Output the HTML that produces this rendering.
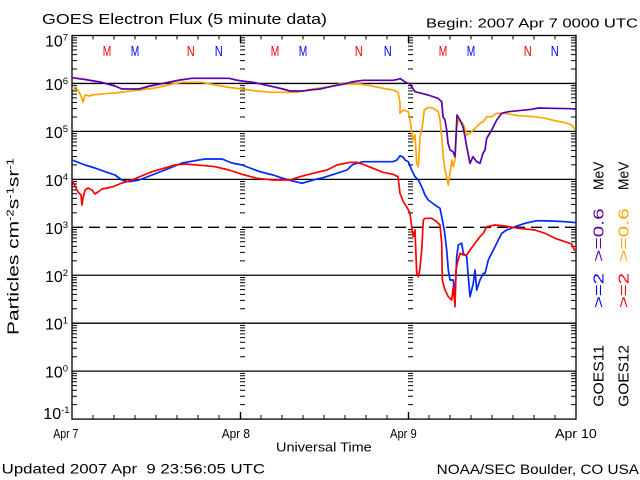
<!DOCTYPE html>
<html><head><meta charset="utf-8"><style>
html,body{margin:0;padding:0;background:#fff;}
svg{display:block;}
text{font-family:"Liberation Sans",sans-serif;fill:#000;}
</style></head><body>
<svg width="640" height="480" viewBox="0 0 640 480" xmlns="http://www.w3.org/2000/svg">
<rect x="0" y="0" width="640" height="480" fill="#fff"/>
<defs>
<path id="tk" d="M0 2.2h5M0 4.65h5M0 7.43h5M0 10.64h5M0 14.43h5M0 19.08h5M0 25.07h5M0 33.52h5" stroke="#000" stroke-width="1" fill="none"/>
<g id="col">
<use href="#tk" y="35.5"/><use href="#tk" y="83.45"/><use href="#tk" y="131.4"/><use href="#tk" y="179.35"/>
<use href="#tk" y="227.3"/><use href="#tk" y="275.25"/><use href="#tk" y="323.2"/><use href="#tk" y="371.15"/>
</g>
</defs>

<!-- titles -->
<text x="42" y="24" font-size="15" textLength="285" lengthAdjust="spacingAndGlyphs">GOES Electron Flux (5 minute data)</text>
<text x="426" y="27.3" font-size="13" textLength="212" lengthAdjust="spacingAndGlyphs">Begin: 2007 Apr 7 0000 UTC</text>

<!-- grid lines -->
<g stroke="#000" stroke-width="1.3" fill="none">
<path d="M72 83.45H576M72 131.4H576M72 179.35H576M72 275.25H576M72 323.2H576M72 371.15H576"/>
<path d="M72 227.3H576" stroke-dasharray="11 6"/>
<rect x="72" y="35.5" width="504" height="383.6"/>
</g>

<!-- minor log ticks -->
<use href="#col" x="72"/>
<use href="#col" x="571"/>
<use href="#col" x="240"/>
<use href="#col" x="408"/>

<!-- time ticks -->
<g stroke="#000" stroke-width="1" fill="none">
<path d="M93 419v-4M114 419v-4M135 419v-4M156 419v-4M177 419v-4M198 419v-4M219 419v-4M261 419v-4M282 419v-4M303 419v-4M324 419v-4M345 419v-4M366 419v-4M387 419v-4M429 419v-4M450 419v-4M471 419v-4M492 419v-4M513 419v-4M534 419v-4M555 419v-4"/>
<path d="M93 35.5v4M114 35.5v4M135 35.5v4M156 35.5v4M177 35.5v4M198 35.5v4M219 35.5v4M261 35.5v4M282 35.5v4M303 35.5v4M324 35.5v4M345 35.5v4M366 35.5v4M387 35.5v4M429 35.5v4M450 35.5v4M471 35.5v4M492 35.5v4M513 35.5v4M534 35.5v4M555 35.5v4"/>
<path d="M240.5 419v-7M408.5 419v-7M240.5 35.5v7M408.5 35.5v7" stroke-width="1.4"/>
</g>

<!-- M/N markers -->
<g font-size="15">
<text x="102.8" y="56" textLength="8.5" lengthAdjust="spacingAndGlyphs" style="fill:#ff0000">M</text>
<text x="130.8" y="56" textLength="8.5" lengthAdjust="spacingAndGlyphs" style="fill:#0000ff">M</text>
<text x="186.8" y="56" textLength="8" lengthAdjust="spacingAndGlyphs" style="fill:#ff0000">N</text>
<text x="214.8" y="56" textLength="8" lengthAdjust="spacingAndGlyphs" style="fill:#0000ff">N</text>
<text x="270.8" y="56" textLength="8.5" lengthAdjust="spacingAndGlyphs" style="fill:#ff0000">M</text>
<text x="298.8" y="56" textLength="8.5" lengthAdjust="spacingAndGlyphs" style="fill:#0000ff">M</text>
<text x="354.8" y="56" textLength="8" lengthAdjust="spacingAndGlyphs" style="fill:#ff0000">N</text>
<text x="383.8" y="56" textLength="8" lengthAdjust="spacingAndGlyphs" style="fill:#0000ff">N</text>
<text x="438.8" y="56" textLength="8.5" lengthAdjust="spacingAndGlyphs" style="fill:#ff0000">M</text>
<text x="466.8" y="56" textLength="8.5" lengthAdjust="spacingAndGlyphs" style="fill:#0000ff">M</text>
<text x="523.8" y="56" textLength="8" lengthAdjust="spacingAndGlyphs" style="fill:#ff0000">N</text>
<text x="550.8" y="56" textLength="8" lengthAdjust="spacingAndGlyphs" style="fill:#0000ff">N</text>
</g>

<!-- y tick labels -->
<g font-size="16">
<text x="45" y="46.7">10<tspan font-size="9.5" dy="-6">7</tspan></text>
<text x="45" y="90">10<tspan font-size="9.5" dy="-6">6</tspan></text>
<text x="45" y="137.9">10<tspan font-size="9.5" dy="-6">5</tspan></text>
<text x="45" y="185.9">10<tspan font-size="9.5" dy="-6">4</tspan></text>
<text x="45" y="233.8">10<tspan font-size="9.5" dy="-6">3</tspan></text>
<text x="45" y="281.8">10<tspan font-size="9.5" dy="-6">2</tspan></text>
<text x="45" y="329.7">10<tspan font-size="9.5" dy="-6">1</tspan></text>
<text x="45" y="377.6">10<tspan font-size="9.5" dy="-6">0</tspan></text>
<text x="43.3" y="419">10<tspan font-size="9.5" dy="-6">-1</tspan></text>
</g>

<!-- y axis title -->
<text transform="translate(18.3,335) rotate(-90)" font-size="16" textLength="177" lengthAdjust="spacingAndGlyphs">Particles cm<tspan font-size="10" dy="-5">-2</tspan><tspan dy="5">s</tspan><tspan font-size="10" dy="-5">-1</tspan><tspan dy="5">sr</tspan><tspan font-size="10" dy="-5">-1</tspan></text>

<!-- x labels -->
<g font-size="13">
<text x="53.3" y="438" textLength="25" lengthAdjust="spacingAndGlyphs">Apr 7</text>
<text x="221.7" y="438" textLength="28.3" lengthAdjust="spacingAndGlyphs">Apr 8</text>
<text x="390" y="438" textLength="26.7" lengthAdjust="spacingAndGlyphs">Apr 9</text>
<text x="555" y="438" textLength="41.7" lengthAdjust="spacingAndGlyphs">Apr 10</text>
<text x="276" y="451.7" textLength="95.7" lengthAdjust="spacingAndGlyphs">Universal Time</text>
</g>
<text x="1.7" y="473.3" font-size="14" textLength="263.3" lengthAdjust="spacingAndGlyphs" style="white-space:pre">Updated 2007 Apr  9 23:56:05 UTC</text>
<text x="436.7" y="474" font-size="14" textLength="202.3" lengthAdjust="spacingAndGlyphs">NOAA/SEC Boulder, CO USA</text>

<!-- right side legend -->
<g font-size="15">
<text transform="translate(603.3,406.7) rotate(-90)" textLength="61.7" lengthAdjust="spacingAndGlyphs">GOES11</text>
<text transform="translate(603.3,308) rotate(-90)" textLength="35" lengthAdjust="spacingAndGlyphs" style="fill:#0000ff">&gt;=2</text>
<text transform="translate(603.3,261.7) rotate(-90)" textLength="53.4" lengthAdjust="spacingAndGlyphs" style="fill:#5a00aa">&gt;=0.6</text>
<text transform="translate(603.3,190) rotate(-90)" textLength="28.3" lengthAdjust="spacingAndGlyphs">MeV</text>
<text transform="translate(628.3,406.7) rotate(-90)" textLength="61.7" lengthAdjust="spacingAndGlyphs">GOES12</text>
<text transform="translate(628.3,308) rotate(-90)" textLength="35" lengthAdjust="spacingAndGlyphs" style="fill:#ff0000">&gt;=2</text>
<text transform="translate(628.3,261.7) rotate(-90)" textLength="53.4" lengthAdjust="spacingAndGlyphs" style="fill:#ffa500">&gt;=0.6</text>
<text transform="translate(628.3,190) rotate(-90)" textLength="28.3" lengthAdjust="spacingAndGlyphs">MeV</text>
</g>

<!-- data series -->
<g fill="none" stroke-width="1.7" stroke-linejoin="round">
<polyline stroke="#ffa500" points="72,88 78,90 81,96 83,102 85,95 90,96 92,95 105,93.7 120,92.5 139,90 155,88 172,84 182,82.3 202,82.3 210,84 219,85.7 230,87.5 242,89 257,91 270,92.3 297,92.3 303,91 313,89 330,86.7 340,84 360,84 370,85.7 383,88.3 393,90 397,91.7 398.3,93 400,103.3 400,113.3 403.3,110 408.3,111.7 410,120 411.7,131.7 413.3,140 415,135 416.7,163.3 418.3,166.7 420,136.7 422.3,126.7 424.3,110 428.3,107.3 433.3,108.3 438.3,111.7 440,120 441.7,136.7 443.3,156.7 445,170 446.7,176.7 448.3,185 450,173.3 451.7,160 453.3,166.7 455,160 456.7,128.3 458.3,120 461.7,121.7 465,128.3 466.7,135 470,133.3 473.3,130 476.7,126.7 480,123.3 483.3,121.7 486.7,116.7 491.7,116.7 496.7,113.3 505,113.3 518.3,115.7 535,116.7 545,118.3 555,120.7 565,122.7 571.7,125 575,129.3"/>
<polyline stroke="#5a00aa" points="72,77.7 85,79.5 100,82 115,86 122,89 139,89 150,86 165,83 180,80 192,78.3 229,78.3 236,80 242,81 253,82.3 273,86.7 283,89 290,91 303,91 310,90 320,89 330,86.7 343,84.3 353,81.7 363,80.3 393,80.3 398,79.3 400,78.5 403,80.5 405,82 410,84 415,91.7 421.7,93.3 428,95 438,98.3 441.7,101.7 443,116.7 445,120 446.7,130 448,143 450,150 453,151.7 455,156.7 456,136.7 457,115 460,120 463,126.7 465,136.7 466.7,146.7 470,163.3 473,156.7 476.7,161.7 480,163.3 483,153.3 485,150 486.7,138.3 491.7,130 496.7,120 501.7,113.3 508.3,111.7 518.3,110.7 531.7,109.3 538.3,108 551.7,108.3 571.7,108.7 576,109.3"/>
<polyline stroke="#0028ff" points="72,160 85,165 95,168 105,171.7 115,175 122,180 129,181.7 139,180 152,175 165,170 182,163 195,160.7 205,159 222,159 232,163 242,165 250,168 260,171.7 273,175 283,178.3 293,181 302,183.3 313,180 323,177.7 337,173.3 347,170 353,164.3 363,161.7 393,161.7 397,160 400,155.7 403.3,157.3 405,160 408.3,161.7 411.7,170 415,176.7 418.3,180 421.7,186.7 425,195 428.3,200 435,205 440,208.3 441.7,216.7 444.3,230 446.7,250 448.3,270 450,280 453.3,280 455,300 456.7,256.7 458.3,245 461.7,243.3 463.3,253.3 466.7,256.7 468.3,276.7 470,296.7 473.3,283.3 475,270 476.7,290 480,280 483.3,273.3 485,273.3 486.7,266.7 488.3,260 491.7,253.3 495,246.7 498.3,240 501.7,233.3 506.7,230 515,226.7 525,223.3 536.7,220.7 551.7,221 565,221.7 576,222.7"/>
<polyline stroke="#ff0000" points="72,180 75,186 78,192 81,195 82,205 83,198 85,190 88,188 92,190 95,194 98,192 102,189 107,188 112,187 117,185 122,183 132,180 139,177 152,171.7 165,168 175,165 185,164 205,165.7 215,166.7 229,170 242,174.3 257,178.3 273,180 290,180 300,176.7 313,173.3 327,170 337,165 350,162.3 357,162.3 363,164.3 373,168.3 383,172.3 393,174.3 398,176.7 400,193.3 403.3,201.7 406.7,206.7 410,213.3 411.7,226.7 413.3,236.7 415,230 416.7,273.3 418.3,276.7 420,268.3 421.7,250 423.3,220 425,218.3 431.7,218.3 436.7,221.7 440,225 441.7,243.3 442.3,280 445,290 448.3,296.7 451.7,300 453.3,286.7 455,306.7 456,270 457.7,261.7 460,253.3 463.3,255 466.7,255 470,250 475,243.3 480,236.7 483.3,233.3 486.7,226.7 495,225 505,226 518.3,228.3 535,230 545,233.3 555,238.3 565,241.7 571.7,244 574.3,250 576,250"/>
</g>
</svg>
</body></html>
